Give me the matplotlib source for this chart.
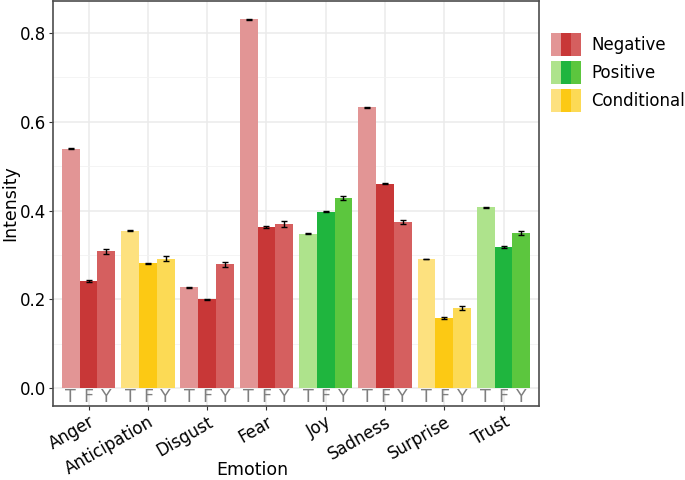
import numpy as np
import matplotlib
matplotlib.use('Agg')
from matplotlib import pyplot as plt
from matplotlib.patches import Patch
from matplotlib.legend_handler import HandlerTuple

emotions = ['Anger', 'Anticipation', 'Disgust', 'Fear', 'Joy', 'Sadness', 'Surprise', 'Trust']
groups = ['Negative', 'Conditional', 'Negative', 'Negative', 'Positive', 'Negative', 'Conditional', 'Positive']
sub_labels = ['T', 'F', 'Y']

val_t = [0.539, 0.355, 0.227, 0.831, 0.348, 0.633, 0.291, 0.408]
val_f = [0.241, 0.281, 0.200, 0.363, 0.398, 0.461, 0.158, 0.318]
val_y = [0.308, 0.292, 0.279, 0.370, 0.428, 0.375, 0.181, 0.350]
err_t = [0.001, 0.001, 0.001, 0.001, 0.001, 0.001, 0.001, 0.001]
err_f = [0.002, 0.002, 0.002, 0.003, 0.002, 0.002, 0.002, 0.002]
err_y = [0.005, 0.005, 0.005, 0.007, 0.005, 0.004, 0.004, 0.004]

palette = {
    'Negative': ['#E29595', '#C83737', '#D55F5F'],
    'Positive': ['#AEE38C', '#1FB53E', '#5CC63E'],
    'Conditional': ['#FDE17F', '#FCC914', '#FCDA55'],
}

fig = plt.figure(figsize=(6.85, 4.8), dpi=100)
ax = fig.add_axes([0.0774, 0.154, 0.7096, 0.844])

x = np.arange(1, len(emotions) + 1)
w = 0.3
series = [(val_t, err_t), (val_f, err_f), (val_y, err_y)]
for j, (vals, errs) in enumerate(series):
    xs = x + (j - 1) * w
    cols = [palette[g][j] for g in groups]
    ax.bar(xs, vals, width=w, color=cols, zorder=2)
    ax.errorbar(xs, vals, yerr=errs, fmt='none', ecolor='black',
                elinewidth=1, capsize=2.5, capthick=1, zorder=3)
    for xx in xs:
        ax.text(xx, -0.02, sub_labels[j], ha='center', va='center',
                color='#7f7f7f', fontsize=12.5, zorder=3)

ax.set_xlim(0.4, 8.6)
ax.set_ylim(-0.04, 0.872)
ax.set_xticks(x)
ax.set_xticklabels(emotions, rotation=30, ha='right', rotation_mode='anchor', fontsize=12)
ax.set_yticks([0.0, 0.2, 0.4, 0.6, 0.8])
ax.set_yticklabels(['0.0', '0.2', '0.4', '0.6', '0.8'], fontsize=12)
ax.set_yticks([0.1, 0.3, 0.5, 0.7], minor=True)
ax.tick_params(axis='both', which='major', length=3, color='#333333', labelcolor='black', pad=2)
ax.tick_params(axis='y', which='minor', length=0)
ax.grid(True, which='major', color='#ebebeb', linewidth=1.1, zorder=0)
ax.grid(True, which='minor', axis='y', color='#f2f2f2', linewidth=0.6, zorder=0)
ax.set_axisbelow(True)
for s in ax.spines.values():
    s.set_color('#4d4d4d')
    s.set_linewidth(1.2)

ax.set_xlabel('Emotion', fontsize=12.5, va='center')
ax.xaxis.set_label_coords(0.41, -0.158)
ax.set_ylabel('Intensity', fontsize=12.5, va='center')
ax.yaxis.set_label_coords(-0.089, 0.5)

handles = []
for g in ['Negative', 'Positive', 'Conditional']:
    handles.append(tuple(Patch(facecolor=c, edgecolor='none') for c in palette[g]))
fig.legend(handles, ['Negative', 'Positive', 'Conditional'],
           handler_map={tuple: HandlerTuple(ndivide=None, pad=0)},
           loc='upper left', bbox_to_anchor=(0.804, 0.931), frameon=False,
           fontsize=12, handlelength=1.8, handleheight=1.75,
           labelspacing=0.3, handletextpad=0.65, borderaxespad=0, borderpad=0)

plt.savefig('out.png', dpi=100)
